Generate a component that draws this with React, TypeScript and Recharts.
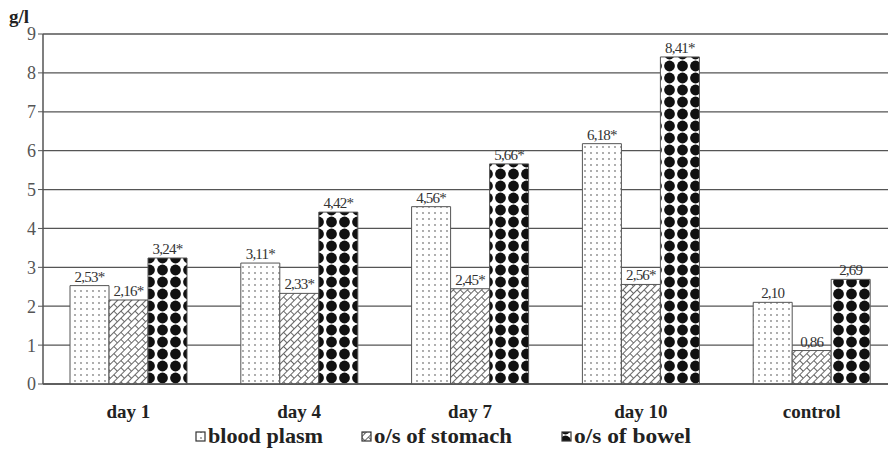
import { Bar, BarChart, CartesianGrid, LabelList, XAxis, YAxis } from "recharts";

const categories = ["day 1", "day 4", "day 7", "day 10", "control"];
const bloodPlasm = [2.53, 3.11, 4.56, 6.18, 2.1];
const stomach = [2.16, 2.33, 2.45, 2.56, 0.86];
const bowel = [3.24, 4.42, 5.66, 8.41, 2.69];
const significant = [true, true, true, true, false];
const yTicks = [0, 1, 2, 3, 4, 5, 6, 7, 8, 9];

const seriesNames = ["blood plasm", "o/s of stomach", "o/s of bowel"];

const data = categories.map((name, i) => ({
  name,
  plasma: bloodPlasm[i],
  stomach: stomach[i],
  bowel: bowel[i],
  star: significant[i],
}));

const serif = "'Liberation Serif', 'Times New Roman', serif";

const fmt = (v: number, star: boolean) => v.toFixed(2).replace(".", ",") + (star ? "*" : "");

function ValueLabel(props: any) {
  const { x, y, width, value, index } = props;
  return (
    <text
      x={x + width / 2}
      y={y - 4}
      textAnchor="middle"
      fontFamily={serif}
      fontSize={15}
      letterSpacing={-0.8}
      fill="#333"
    >
      {fmt(value, data[index].star)}
    </text>
  );
}

function CategoryTick(props: any) {
  const { x, y, payload } = props;
  return (
    <text x={x} y={y + 26} textAnchor="middle" fontFamily={serif} fontWeight="bold" fontSize={19} fill="#222">
      {payload.value}
    </text>
  );
}

const patternIds = ["pPlasma", "pStomach", "pBowel"];

function Legendish() {
  const items = [
    { x: 196, w: 115, id: patternIds[0], label: seriesNames[0] },
    { x: 362, w: 138, id: patternIds[1], label: seriesNames[1] },
    { x: 562, w: 117, id: patternIds[2], label: seriesNames[2] },
  ];
  return (
    <svg width={888} height={34} style={{ position: "absolute", left: 0, top: 423 }}>
      {items.map((it) => (
        <g key={it.id}>
          <rect x={it.x} y={9} width={9} height={9} fill={`url(#${it.id})`} stroke="#333" strokeWidth={1.2} />
          <text
            x={it.x + 12}
            y={20}
            fontFamily={serif}
            fontWeight="bold"
            fontSize={21}
            fill="#222"
            textLength={it.w}
            lengthAdjust="spacingAndGlyphs"
          >
            {it.label}
          </text>
        </g>
      ))}
    </svg>
  );
}

export default function App() {
  return (
    <div style={{ position: "absolute", left: 0, top: 0, width: 888, height: 457, overflow: "hidden", background: "#fff" }}>
      <div style={{ position: "absolute", left: 9, top: 6, fontFamily: serif, fontWeight: "bold", fontSize: 19, color: "#222" }}>
        g/l
      </div>
      <BarChart
        width={900}
        height={457}
        data={data}
        margin={{ top: 34, right: 3, left: 0, bottom: 0 }}
        barGap={0}
        barSize={39}
      >
        <defs>
          <pattern id="pPlasma" width={6} height={6} patternUnits="userSpaceOnUse">
            <rect width={6} height={6} fill="#fff" />
            <circle cx={3} cy={3} r={0.9} fill="#888" />
          </pattern>
          <pattern id="pStomach" width={10} height={10} patternUnits="userSpaceOnUse" patternTransform="rotate(-45)">
            <rect width={10} height={10} fill="#fff" />
            <path d="M0,0.5 H10 M0,5.5 H10 M0.5,0.5 V5.5 M5.5,5.5 V10.5" stroke="#666" strokeWidth={1} fill="none" />
          </pattern>
          <pattern id="pBowel" width={13} height={12} patternUnits="userSpaceOnUse">
            <rect width={13} height={12} fill="#fff" />
            <circle cx={6.5} cy={6} r={5.4} fill="#111" />
          </pattern>
        </defs>
        <CartesianGrid vertical={false} stroke="#555" strokeWidth={1.3} />
        <XAxis
          dataKey="name"
          height={73}
          tickLine={false}
          axisLine={{ stroke: "#555", strokeWidth: 1.5 }}
          tick={<CategoryTick />}
          interval={0}
        />
        <YAxis
          width={43}
          domain={[0, 9]}
          ticks={yTicks}
          interval={0}
          tickSize={5}
          tickLine={{ stroke: "#555" }}
          axisLine={{ stroke: "#555", strokeWidth: 1.5 }}
          tick={{ fill: "#555", fontSize: 18, fontFamily: serif }}
        />
        <Bar dataKey="plasma" name={seriesNames[0]} fill="url(#pPlasma)" stroke="#555" strokeWidth={1} isAnimationActive={false}>
          <LabelList dataKey="plasma" content={<ValueLabel />} />
        </Bar>
        <Bar dataKey="stomach" name={seriesNames[1]} fill="url(#pStomach)" stroke="#555" strokeWidth={1} isAnimationActive={false}>
          <LabelList dataKey="stomach" content={<ValueLabel />} />
        </Bar>
        <Bar dataKey="bowel" name={seriesNames[2]} fill="url(#pBowel)" stroke="#555" strokeWidth={1} isAnimationActive={false}>
          <LabelList dataKey="bowel" content={<ValueLabel />} />
        </Bar>
      </BarChart>
      <Legendish />
    </div>
  );
}
